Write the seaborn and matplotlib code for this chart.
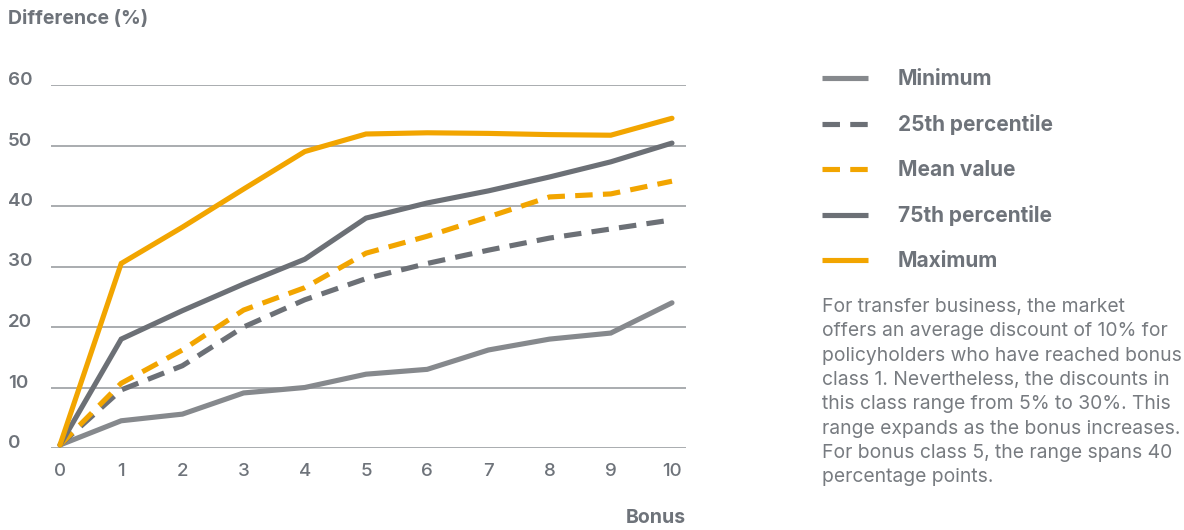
import matplotlib
matplotlib.use("Agg")
import matplotlib.pyplot as plt
import seaborn as sns
import pandas as pd
from matplotlib.lines import Line2D

# Discount difference by bonus class
bonus = [0, 1, 2, 3, 4, 5, 6, 7, 8, 9, 10]
minimum = [0.5, 4.5, 5.6, 9.1, 10.0, 12.2, 13.0, 16.2, 18.0, 19.0, 24.0]
p25 = [0.5, 9.6, 13.6, 20.0, 24.5, 28.0, 30.5, 32.7, 34.7, 36.2, 37.7]
mean_value = [0.5, 10.7, 16.2, 22.8, 26.5, 32.2, 35.0, 38.2, 41.5, 42.0, 44.1]
p75 = [0.5, 18.0, 22.7, 27.1, 31.2, 38.0, 40.5, 42.5, 44.8, 47.3, 50.4]
maximum = [0.5, 30.5, 36.5, 42.8, 49.0, 51.9, 52.1, 52.0, 51.8, 51.7, 54.5]

series_names = ["Minimum", "25th percentile", "Mean value", "75th percentile", "Maximum"]
series_values = [minimum, p25, mean_value, p75, maximum]
y_ticks = [0, 10, 20, 30, 40, 50, 60]

note = ("For transfer business, the market\n"
        "offers an average discount of 10% for\n"
        "policyholders who have reached bonus\n"
        "class 1. Nevertheless, the discounts in\n"
        "this class range from 5% to 30%. This\n"
        "range expands as the bonus increases.\n"
        "For bonus class 5, the range spans 40\n"
        "percentage points.")

ORANGE = "#F2A500"
DARK = "#6C7076"
LIGHT = "#86898D"
TEXT = "#6E737A"
colors = [LIGHT, DARK, ORANGE, DARK, ORANGE]
dashed = [False, True, True, False, False]

df = pd.DataFrame({"bonus": bonus * len(series_names)})
df["value"] = [v for vals in series_values for v in vals]
df["series"] = [n for n in series_names for _ in bonus]

sns.set_theme(style="white")
plt.rcParams["font.family"] = ["Inter", "DejaVu Sans"]

W, H = 1184, 530
fig = plt.figure(figsize=(W / 100, H / 100), dpi=100)
ax_l, ax_r, ax_t, ax_b = 51, 686, 85, 448
ax = fig.add_axes([ax_l / W, (H - ax_b) / H, (ax_r - ax_l) / W, (ax_b - ax_t) / H])

LW = 3.7
handles = []
for name, col, dash in zip(series_names, colors, dashed):
    sub = df[df["series"] == name]
    sns.lineplot(data=sub, x="bonus", y="value", ax=ax, color=col, linewidth=LW,
                 legend=False, zorder=3)
    line = ax.get_lines()[-1]
    line.set_clip_on(False)
    line.set_solid_joinstyle("miter")
    if dash:
        line.set_dashes((3.4, 2.0))
    h = Line2D([], [], color=col, linewidth=LW, solid_capstyle="butt",
               dash_capstyle="butt")
    if dash:
        h.set_dashes((3.4, 2.0))
    handles.append(h)

ax.set_xlim(-0.147, 10.229)
ax.set_ylim(0, 60)
ax.set_xticks(bonus)
ax.set_xticklabels([str(b) for b in bonus])
ax.set_yticks(y_ticks)
ax.set_yticklabels([str(t) for t in y_ticks])
ax.grid(axis="y", color="#A3A6A9", linewidth=1.3)
ax.grid(axis="x", visible=False)
for s in ax.spines.values():
    s.set_visible(False)
ax.set_xlabel("")
ax.set_ylabel("")
ax.tick_params(axis="both", length=0, labelsize=13.5, labelcolor=TEXT)
ax.tick_params(axis="x", pad=11)
ax.tick_params(axis="y", pad=31)
for lbl in ax.get_yticklabels():
    lbl.set_ha("left")
    lbl.set_va("baseline")
    lbl.set_fontweight("semibold")
for lbl in ax.get_xticklabels():
    lbl.set_fontweight("medium")

fig.text(8 / W, 1 - 19 / H, "Difference (%)", ha="left", va="center",
         fontsize=14, fontweight="bold", color=TEXT)
fig.text(686 / W, 1 - 518 / H, "Bonus", ha="right", va="center",
         fontsize=14, fontweight="bold", color=TEXT)

leg = fig.legend(handles, series_names, loc="upper left",
                 bbox_to_anchor=(822 / W, 1 - 69 / H), frameon=False,
                 handlelength=2.21, handletextpad=1.44, labelspacing=1.2,
                 prop={"size": 15, "weight": "bold"}, borderaxespad=0,
                 borderpad=0)
for t in leg.get_texts():
    t.set_color(TEXT)

fig.text(822 / W, 1 - 298 / H, note, ha="left", va="top", fontsize=13.9,
         color="#777B80", linespacing=1.45)

fig.savefig("out.png", dpi=100, facecolor="white")
